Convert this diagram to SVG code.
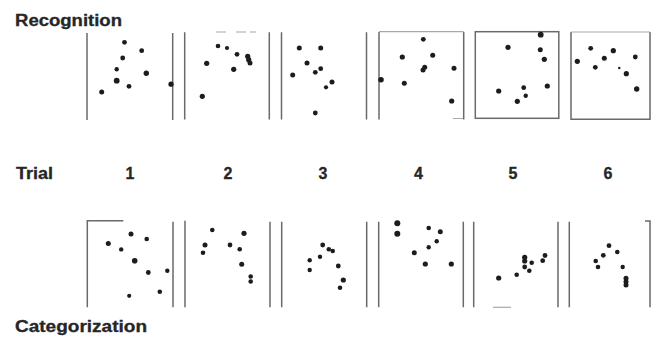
<svg xmlns="http://www.w3.org/2000/svg" width="651" height="338" viewBox="0 0 651 338">
<style>
.f{stroke:#6a6a6a;stroke-width:1.5;fill:none}
.g{stroke:#a8a8a8;stroke-width:1.2;fill:none}
circle{fill:#1c1c1c}
.l{font-family:"Liberation Sans",Arial,sans-serif;font-weight:bold;fill:#262626;stroke:#262626;stroke-width:0.3}
.n{font-family:"Liberation Sans",Arial,sans-serif;font-weight:bold;fill:#262626;stroke:#262626;stroke-width:0.3;font-size:16px;text-anchor:middle}
</style>
<rect width="651" height="338" fill="#ffffff"/>
<g id="labels">
<text class="l" x="15" y="25.5" font-size="16" textLength="107" lengthAdjust="spacingAndGlyphs">Recognition</text>
<text class="l" x="16" y="178.5" font-size="16" textLength="37" lengthAdjust="spacingAndGlyphs">Trial</text>
<text class="l" x="15" y="331.5" font-size="16" textLength="132" lengthAdjust="spacingAndGlyphs">Categorization</text>
<text class="n" x="130" y="178.5">1</text>
<text class="n" x="228" y="178.5">2</text>
<text class="n" x="323" y="178.5">3</text>
<text class="n" x="418.5" y="178.5">4</text>
<text class="n" x="513" y="178.5">5</text>
<text class="n" x="608" y="178.5">6</text>
</g>
<g id="rec1">
<path class="f" d="M87 33V120M172.7 33V120"/>
<circle cx="124.5" cy="42.3" r="2.4"/><circle cx="141.7" cy="50.7" r="2.4"/><circle cx="122.7" cy="58" r="2.4"/><circle cx="116.7" cy="69.3" r="2.2"/><circle cx="146.3" cy="73.3" r="2.7"/><circle cx="116.7" cy="80.7" r="2.9"/><circle cx="129" cy="86.3" r="2.4"/><circle cx="101.7" cy="92" r="2.5"/><circle cx="171" cy="84.2" r="2.6"/>
</g>
<g id="rec2">
<path class="f" d="M184.7 32.3V119.5M269.3 32.3V119.5"/>
<path class="g" d="M216 32H226M236 32H246M250 32H256"/>
<circle cx="218" cy="46" r="2.3"/><circle cx="227" cy="48" r="2.1"/><circle cx="237" cy="54.3" r="2.4"/><circle cx="247.7" cy="56.3" r="2.6"/><circle cx="248.7" cy="59.7" r="2.6"/><circle cx="250" cy="63" r="2.5"/><circle cx="206.7" cy="63.3" r="2.6"/><circle cx="233.7" cy="69.3" r="2.6"/><circle cx="202.3" cy="96.3" r="2.6"/>
</g>
<g id="rec3">
<path class="f" d="M281.5 32.3V119.5M366.5 32.3V119.5"/>
<circle cx="299.3" cy="48" r="2.5"/><circle cx="320.7" cy="48" r="2.5"/><circle cx="307" cy="63" r="2.5"/><circle cx="320.7" cy="68.7" r="2.4"/><circle cx="315.3" cy="72.3" r="2.4"/><circle cx="292.7" cy="75" r="2.5"/><circle cx="332" cy="82" r="2.5"/><circle cx="326" cy="87.3" r="2.1"/><circle cx="315.3" cy="113" r="2.4"/>
</g>
<g id="rec4">
<path class="f" d="M379 32V119.5M463.7 32V119.5"/>
<path class="g" d="M379 31.6H463.7M453 118.5H463"/>
<circle cx="423.3" cy="39.3" r="2.4"/><circle cx="402.3" cy="57" r="2.6"/><circle cx="432.7" cy="55.3" r="2.5"/><circle cx="424.7" cy="67.3" r="2.5"/><circle cx="423" cy="70" r="2.5"/><circle cx="454" cy="68.3" r="2.5"/><circle cx="381" cy="79.7" r="2.8"/><circle cx="404.3" cy="83.3" r="2.5"/><circle cx="451.7" cy="101" r="2.6"/>
</g>
<g id="rec5">
<rect class="f" x="475.3" y="31.7" width="83.5" height="86.6"/>
<circle cx="540.7" cy="34.7" r="2.9"/><circle cx="508" cy="47.3" r="2.6"/><circle cx="540.3" cy="49.7" r="2.5"/><circle cx="544.3" cy="59.3" r="2.6"/><circle cx="547.3" cy="86" r="2.6"/><circle cx="498.7" cy="91" r="2.6"/><circle cx="523.7" cy="87.7" r="2.4"/><circle cx="525.7" cy="95.7" r="2.2"/><circle cx="517.3" cy="101.3" r="2.6"/>
</g>
<g id="rec6">
<path class="f" d="M571 32V119.3H650V32"/>
<path class="g" d="M571 32H650"/>
<circle cx="590.7" cy="48.3" r="2.4"/><circle cx="613.3" cy="50.7" r="2.6"/><circle cx="577.3" cy="61.3" r="2.6"/><circle cx="604.3" cy="58.3" r="2.5"/><circle cx="635.3" cy="57" r="2.4"/><circle cx="595.3" cy="67.3" r="2.4"/><circle cx="619.3" cy="68" r="1.2"/><circle cx="626.3" cy="73.7" r="2.6"/><circle cx="636.7" cy="89" r="2.7"/>
</g>
<g id="cat1">
<path class="f" d="M123.3 220.7H87.3V307.3M173 221.7V307.3"/>
<circle cx="131" cy="234" r="2.5"/><circle cx="108.3" cy="243.5" r="2.5"/><circle cx="146.7" cy="239" r="2.3"/><circle cx="121.2" cy="249.4" r="2.2"/><circle cx="134.7" cy="260.7" r="2.8"/><circle cx="148.3" cy="272.5" r="2.4"/><circle cx="167.3" cy="270.7" r="2.2"/><circle cx="159.8" cy="291.7" r="2.3"/><circle cx="129.2" cy="295.8" r="2.1"/>
</g>
<g id="cat2">
<path class="f" d="M185 220.7V307.3M270 221.7V307.3"/>
<circle cx="212.3" cy="230" r="2.3"/><circle cx="244" cy="233.3" r="2.6"/><circle cx="205" cy="245" r="2.5"/><circle cx="230" cy="245" r="2.4"/><circle cx="239.7" cy="249.3" r="2.3"/><circle cx="203" cy="252.7" r="2.3"/><circle cx="241.7" cy="264.3" r="2.5"/><circle cx="250.7" cy="276.5" r="2.3"/><circle cx="250.7" cy="281.5" r="2.3"/>
</g>
<g id="cat3">
<path class="f" d="M281.7 221.7V307.3M366.7 221.7V307.3"/>
<circle cx="322.7" cy="245" r="2.4"/><circle cx="328.8" cy="249.3" r="2.3"/><circle cx="332.7" cy="251" r="2.3"/><circle cx="320" cy="256.7" r="2.2"/><circle cx="309.7" cy="260.3" r="2.2"/><circle cx="309.7" cy="270" r="2.2"/><circle cx="338.3" cy="266" r="2.4"/><circle cx="343.3" cy="280" r="2.6"/><circle cx="340" cy="287.7" r="2.3"/>
</g>
<g id="cat4">
<path class="f" d="M378.7 221.7V307.3M463.3 221.7V307.3"/>
<circle cx="397.3" cy="223.3" r="3"/><circle cx="397.3" cy="233.7" r="3"/><circle cx="428.7" cy="228" r="2.3"/><circle cx="440.3" cy="231.7" r="2.5"/><circle cx="436.7" cy="241.3" r="2.2"/><circle cx="428.7" cy="247.3" r="2.2"/><circle cx="414.3" cy="252.7" r="2.5"/><circle cx="425.3" cy="264" r="2.6"/><circle cx="451.3" cy="264" r="2.6"/>
</g>
<g id="cat5">
<path class="f" d="M473.7 221.7V307.3M558 221.7V307.3"/>
<path class="g" d="M493 307.3H511"/>
<circle cx="498.7" cy="278" r="2.6"/><circle cx="516.7" cy="274.7" r="2.3"/><circle cx="524.7" cy="257.3" r="2.6"/><circle cx="524.7" cy="261" r="2.6"/><circle cx="524.7" cy="267" r="2.4"/><circle cx="531.7" cy="262.7" r="2.3"/><circle cx="529.3" cy="270.7" r="2.3"/><circle cx="542.7" cy="260.7" r="2.4"/><circle cx="545" cy="255.5" r="2.4"/>
</g>
<g id="cat6">
<path class="f" d="M569.3 221.7V307.3M645 221H650V307.3"/>
<circle cx="609" cy="245.7" r="2.4"/><circle cx="617.3" cy="252" r="2.3"/><circle cx="603.3" cy="255.3" r="2.4"/><circle cx="595.7" cy="261" r="2.3"/><circle cx="598" cy="267" r="2.3"/><circle cx="622.7" cy="267" r="2.2"/><circle cx="626" cy="278.3" r="2.5"/><circle cx="626" cy="281.7" r="2.5"/><circle cx="626" cy="285" r="2.5"/>
</g>
</svg>
